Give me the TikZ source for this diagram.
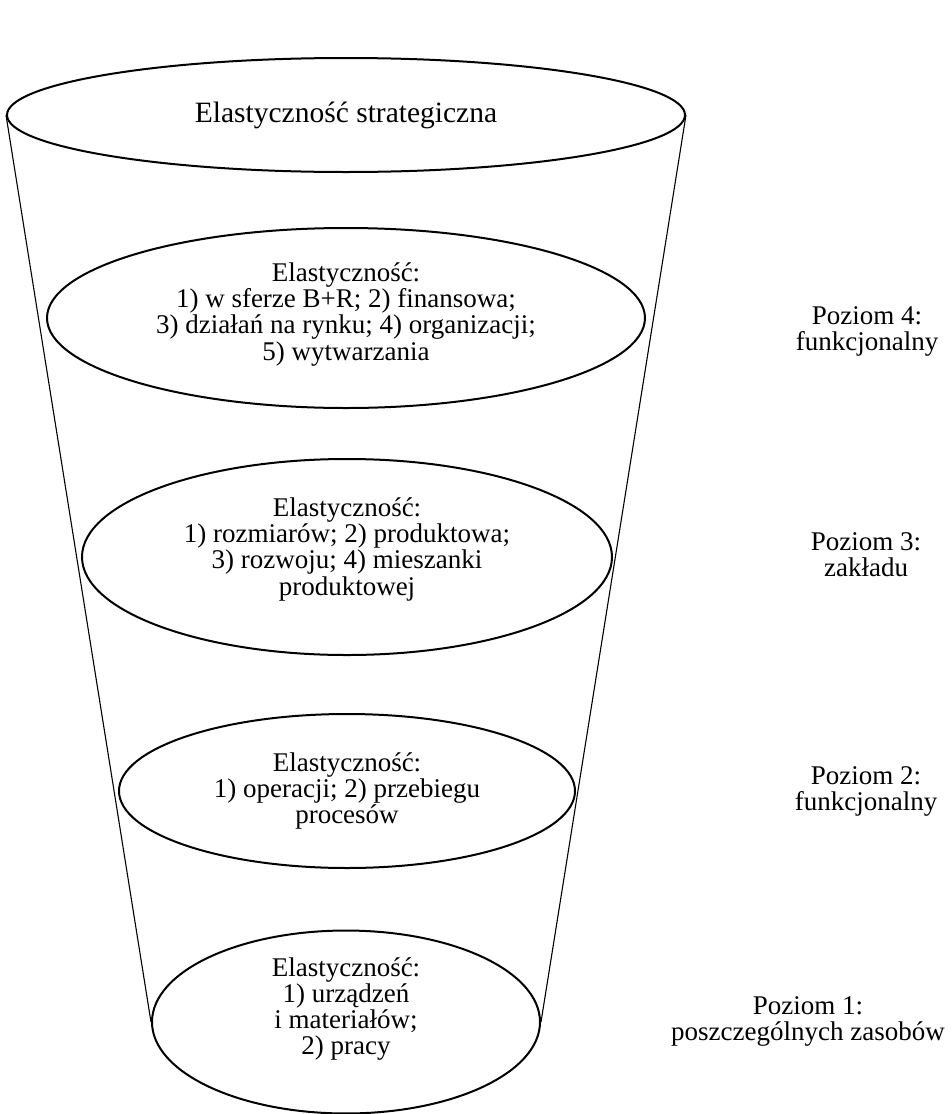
\documentclass[tikz,border=0pt]{standalone}
\usepackage{fontspec}
\setmainfont{Liberation Serif}
\usetikzlibrary{shapes.geometric}

% centred lines with a fixed baseline distance
\newcommand{\linestack}[1]{\vbox{\lineskiplimit=-\maxdimen
  \def\\{\cr}\halign{\hfil##\hfil\cr#1\crcr}}}

\tikzset{
  level/.style={ellipse, draw, line width=2pt, inner sep=0pt, align=center,
    font=\fontsize{27}{26.2}\selectfont},
  tier/.style={align=center, inner sep=0pt, font=\fontsize{27}{26}\selectfont},
  side/.style={line width=1.1pt}
}

\begin{document}
\begin{tikzpicture}[x=1pt,y=-1pt]
  \useasboundingbox (0,0) rectangle (951,1114);
  % Ellipses of the funnel
  \node [level, minimum width=678, minimum height=114,
    font=\fontsize{29.5}{30}\selectfont] (e0) at (346,115) {\raisebox{1pt}{\linestack{Elastyczność strategiczna}}};
  \node [level, minimum width=598, minimum height=180] (e1) at (346,318)
    {\raisebox{13pt}{\linestack{Elastyczność:\\1) w sferze B+R; 2) finansowa;\\3) działań na rynku; 4) organizacji;\\5) wytwarzania}}};
  \node [level, minimum width=530, minimum height=196] (e2) at (347,557)
    {\raisebox{21pt}{\linestack{Elastyczność:\\1) rozmiarów; 2) produktowa;\\3) rozwoju; 4) mieszanki\\produktowej}}};
  \node [level, minimum width=456, minimum height=154] (e3) at (347,791)
    {\raisebox{-11pt}{\linestack{Elastyczność:\\1) operacji; 2) przebiegu\\procesów}}};
  \node [level, minimum width=388, minimum height=176] (e4) at (346,1022)
    {\raisebox{32pt}{\linestack{Elastyczność:\\1) urządzeń\\i materiałów;\\2) pracy}}};
  % Sides of the funnel
  \draw [side] (e0.west) -- (e4.west);
  \draw [side] (e0.east) -- (e4.east);
  % Levels
  \node [tier] (p4) at (867,331) {\raisebox{2pt}{\linestack{Poziom 4:\\funkcjonalny}}};
  \node [tier] (p3) at (866,556) {\raisebox{2pt}{\linestack{Poziom 3:\\zakładu}}};
  \node [tier] (p2) at (866,791) {\raisebox{1pt}{\linestack{Poziom 2:\\funkcjonalny}}};
  \node [tier] (p1) at (808,1021) {\linestack{Poziom 1:\\poszczególnych zasobów}};
\end{tikzpicture}
\end{document}
